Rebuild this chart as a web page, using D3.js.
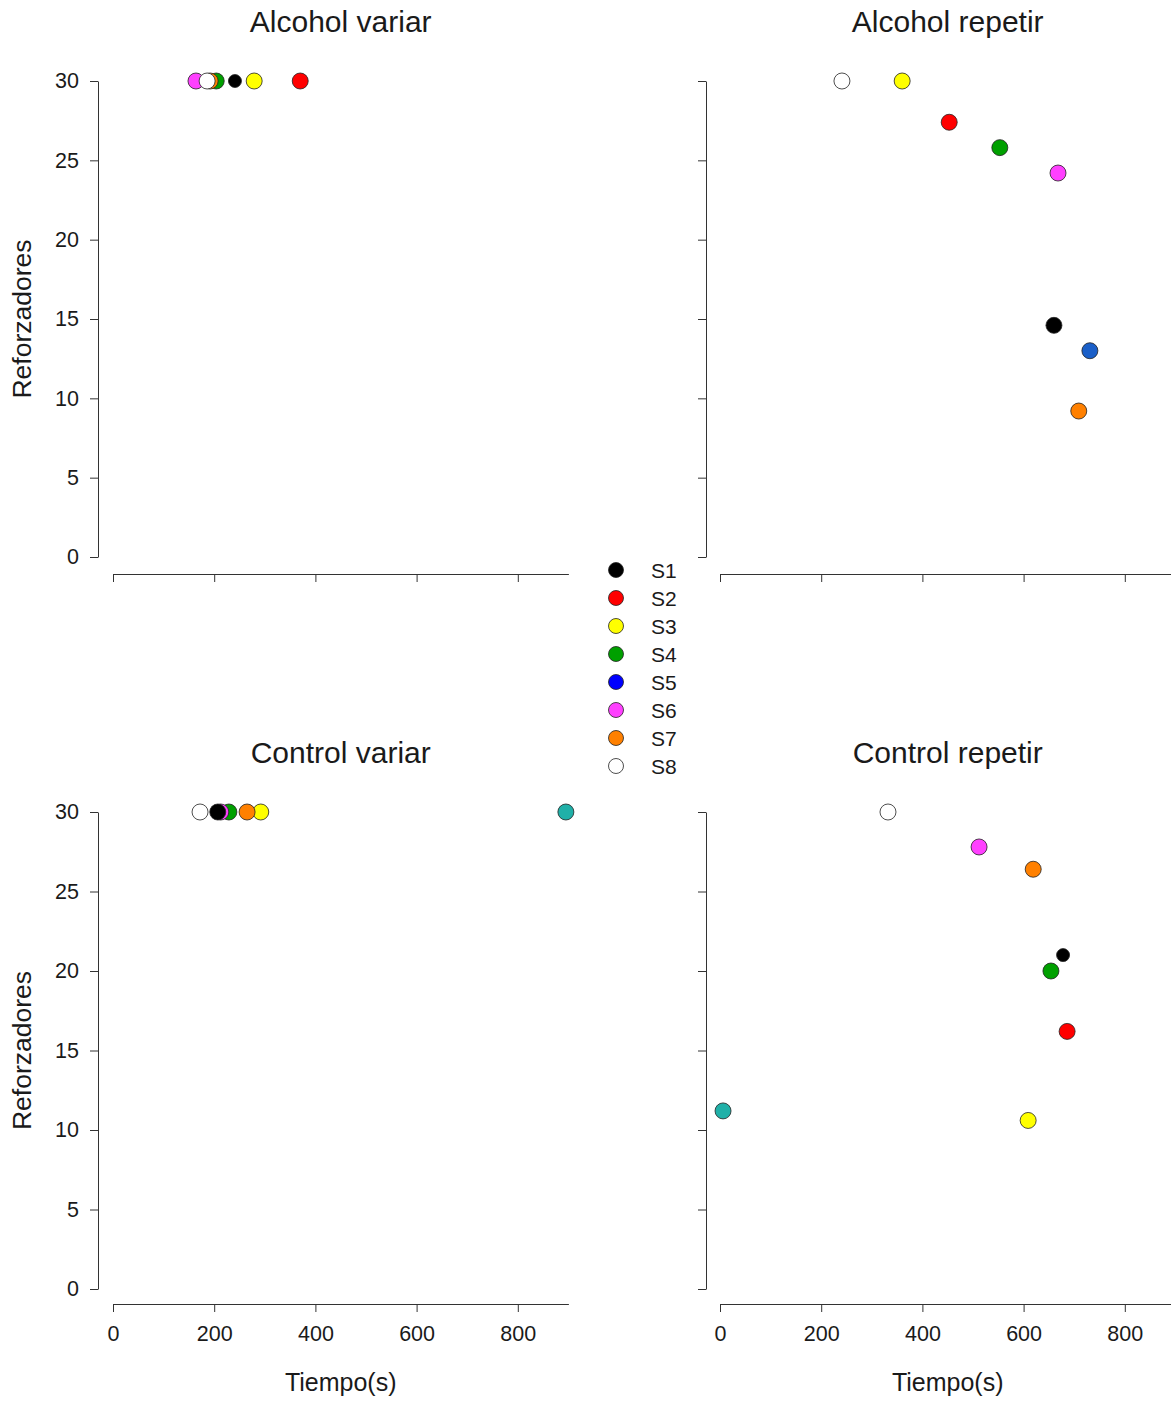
<!DOCTYPE html>
<html>
<head>
<meta charset="utf-8">
<script src="https://cdn.jsdelivr.net/npm/d3@7"></script>
<style>
  body { margin: 0; background: #fff; }
  text { font-family: "Liberation Sans", Arial, sans-serif; fill: #1a1a1a; }
  .axis path, .axis line { stroke: #333; }
</style>
</head>
<body>
<div id="chart"></div>
<script>
// Sujetos (S9 = punto turquesa, sin entrada en la leyenda)
const subjects = ["S1", "S2", "S3", "S4", "S5", "S6", "S7", "S8", "S9"];
const legendSubjects = ["S1", "S2", "S3", "S4", "S5", "S6", "S7", "S8"];
const xTicks = [0, 200, 400, 600, 800];
const yTicks = [0, 5, 10, 15, 20, 25, 30];

// Tiempo(s) y reforzadores por sujeto (null = sin dato)
const alcoholVariarTime = [241, 370, 279, 204, null, 164, 192, 186, null];
const alcoholVariarRef  = [30, 30, 30, 30, null, 30, 30, 30, null];
const alcoholRepetirTime = [660, 453, 360, 553, 731, 668, 709, 241, null];
const alcoholRepetirRef  = [14.6, 27.4, 30, 25.8, 13.0, 24.2, 9.2, 30, null];
const controlVariarTime = [207, null, 292, 229, null, 213, 265, 172, 895];
const controlVariarRef  = [30, null, 30, 30, null, 30, 30, 30, 30];
const controlRepetirTime = [678, 686, 609, 654, null, 512, 619, 332, 6];
const controlRepetirRef  = [21.0, 16.2, 10.6, 20.0, null, 27.8, 26.4, 30, 11.2];

const panelTitles = ["Alcohol variar", "Alcohol repetir", "Control variar", "Control repetir"];

let width = 1171, height = 1401;

let svg = d3.select("#chart")
    .append("svg")
    .attr("width", width)
    .attr("height", height);

const colorScale = d3.scaleOrdinal()
    .domain(subjects)
    .range(["#000000", "#ff0000", "#ffff00", "#00a000", "#1a5fc8", "#ff40ff", "#ff8000", "#ffffff", "#20b0a8"]);

const legendColor = d3.scaleOrdinal()
    .domain(legendSubjects)
    .range(["#000000", "#ff0000", "#ffff00", "#00a000", "#0000ff", "#ff40ff", "#ff8000", "#ffffff"]);

// draw S1 last (it sits above its neighbours in the picture)
const drawOrder = [1, 2, 3, 4, 5, 6, 7, 8, 0];

const panels = [
    { title: panelTitles[0], time: alcoholVariarTime, ref: alcoholVariarRef, left: 113, yAxisX: 98, top: 81, bottom: 557, xAxisY: 574, labels: false, yLabel: true, smallS1: true },
    { title: panelTitles[1], time: alcoholRepetirTime, ref: alcoholRepetirRef, left: 720, yAxisX: 706, top: 81, bottom: 557, xAxisY: 574, labels: false, yLabel: false, smallS1: false },
    { title: panelTitles[2], time: controlVariarTime, ref: controlVariarRef, left: 113, yAxisX: 98, top: 812, bottom: 1289, xAxisY: 1304, labels: true, yLabel: true, smallS1: false },
    { title: panelTitles[3], time: controlRepetirTime, ref: controlRepetirRef, left: 720, yAxisX: 706, top: 812, bottom: 1289, xAxisY: 1304, labels: true, yLabel: false, smallS1: true }
];

panels.forEach(function(p) {
    let xScale = d3.scaleLinear()
        .domain([0, 900])
        .range([p.left, p.left + 455.4]);

    let yScale = d3.scaleLinear()
        .domain([0, 30])
        .range([p.bottom, p.top]);

    // y axis (labels only on the left column)
    let yAxis = svg.append("g")
        .attr("class", "axis")
        .attr("transform", `translate(${p.yAxisX},0)`)
        .call(d3.axisLeft(yScale).tickValues(yTicks).tickSize(8).tickSizeOuter(0).tickPadding(11));
    yAxis.selectAll("text")
        .style("font-size", "21.5px")
        .style("display", p.yLabel ? null : "none");

    // x axis (labels only on the bottom row)
    let xAxis = svg.append("g")
        .attr("class", "axis")
        .attr("transform", `translate(0,${p.xAxisY})`)
        .call(d3.axisBottom(xScale).tickValues(xTicks).tickSize(8).tickSizeOuter(0).tickPadding(14));
    xAxis.selectAll("text")
        .style("font-size", "21.5px")
        .style("display", p.labels ? null : "none");

    // title
    svg.append("text")
        .attr("x", xScale(450))
        .attr("y", p.top - 49)
        .style("text-anchor", "middle")
        .style("font-size", "30px")
        .text(p.title);

    if (p.labels) {
        svg.append("text")
            .attr("x", xScale(450))
            .attr("y", p.xAxisY + 87)
            .style("text-anchor", "middle")
            .style("font-size", "25px")
            .text("Tiempo(s)");
    }

    if (p.yLabel) {
        svg.append("text")
            .attr("transform", `translate(31,${(p.top + p.bottom) / 2}) rotate(-90)`)
            .style("text-anchor", "middle")
            .style("font-size", "26.5px")
            .text("Reforzadores");
    }

    const points = drawOrder
        .filter(i => p.time[i] !== null)
        .map(i => ({ s: subjects[i], t: p.time[i], r: p.ref[i] }));

    svg.append("g")
        .selectAll("circle")
        .data(points)
        .enter()
        .append("circle")
        .attr("cx", d => xScale(d.t))
        .attr("cy", d => yScale(d.r))
        .attr("r", d => (p.smallS1 && d.s === "S1") ? 6.5 : 8)
        .attr("fill", d => colorScale(d.s))
        .attr("stroke", "#222")
        .attr("stroke-width", 0.8);
});

// legend
const legend = svg.selectAll(".legend")
    .data(legendSubjects)
    .enter().append("g")
    .attr("class", "legend")
    .attr("transform", (d, i) => "translate(616," + (570 + i * 28) + ")");

legend.append("circle")
    .attr("r", 7.5)
    .attr("fill", d => legendColor(d))
    .attr("stroke", "#222")
    .attr("stroke-width", 0.8);

legend.append("text")
    .attr("x", 35)
    .attr("dy", ".36em")
    .style("font-size", "21px")
    .text(d => d);
</script>
</body>
</html>
